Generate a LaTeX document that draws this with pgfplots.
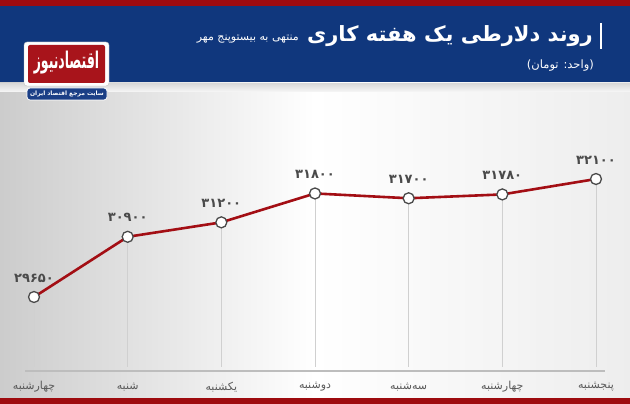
\documentclass[border=0pt]{standalone}
\usepackage{graphicx}
\usepackage{pgfplots}
\pgfplotsset{compat=1.18}
\usepackage{fontspec}
\setmainfont{DejaVu Sans}
\newfontfamily\arabicfont[Script=Arabic]{DejaVu Sans}
\TeXXeTstate=1
\definecolor{hdrblue}{HTML}{10377D}
\definecolor{hdrred}{HTML}{9E0B0F}
\definecolor{linered}{HTML}{A30E14}
\definecolor{lblgray}{HTML}{4A4A4A}
\definecolor{daygray}{HTML}{5A5A5A}
\definecolor{vgray}{HTML}{D0D0D0}
\definecolor{basegray}{HTML}{BDBDBD}
\definecolor{logored}{HTML}{A8141B}
\definecolor{tagblue}{HTML}{1B3F86}
\begin{document}
\begin{tikzpicture}[x=1pt,y=1pt]
\useasboundingbox (0,0) rectangle (630,404);
% background
\shade[left color=black!20, right color=black!7, middle color=white] (0,0) rectangle (630,404);
\shade[top color=black!14, bottom color=black!3] (0,312) rectangle (630,320);
\fill[hdrblue] (0,322) rectangle (630,398);
\fill[hdrred] (0,398) rectangle (630,404);
\fill[hdrred] (0,0) rectangle (630,6);
% logo
\filldraw[fill=white, draw=black!25, rounded corners=3pt] (24,318) rectangle (109,362);
\fill[logored, rounded corners=2pt] (28,321) rectangle (105,359);
\node[text=white, inner sep=0pt] at (66.5,341) {\scalebox{0.62}[1.15]{\arabicfont\bfseries\fontsize{20}{20}\selectfont\beginR اقتصادنیوز\endR}};
\filldraw[fill=tagblue, draw=white, line width=0.8pt, rounded corners=3pt] (27,304) rectangle (107,316);
\node[text=white, inner sep=0pt] at (67,310) {\arabicfont\bfseries\fontsize{6}{6}\selectfont\beginR سایت مرجع اقتصاد ایران\endR};
% title
\draw[white, line width=2pt] (601,381) -- (601,355);
\node[text=white, anchor=east, inner sep=0pt] at (593,368) {\arabicfont\bfseries\fontsize{21}{21}\selectfont\beginR روند دلارطی یک هفته کاری\endR};
\node[text=white, anchor=east, inner sep=0pt] at (299,365) {\arabicfont\fontsize{11}{11}\selectfont\beginR منتهی به بیستوپنج مهر\endR};
\node[text=white, anchor=east, inner sep=0pt] at (594,338) {\arabicfont\fontsize{11.5}{11.5}\selectfont\beginR (واحد: تومان)\endR};
\begin{axis}[
  at={(0,0)}, anchor=south west,
  scale only axis, width=630pt, height=320pt,
  xmin=-0.363, xmax=6.363, ymin=27428, ymax=34073,
  clip=false,
  axis line style={draw=none},
  ytick=\empty,
  xtick={0,1,2,3,4,5,6},
  xticklabels={\beginR چهارشنبه\endR, \beginR شنبه\endR, \beginR یکشنبه\endR, \beginR دوشنبه\endR, \beginR سه‌شنبه\endR, \beginR چهارشنبه\endR, \beginR پنجشنبه\endR},
  xticklabel style={font=\arabicfont\fontsize{11}{11}\selectfont, text=daygray, anchor=center, yshift=17pt},
  major tick length=0pt,
]
% baseline
\addplot[basegray, line width=1.2pt, mark=none] coordinates {(-0.096,28113) (6.096,28113)};
% vertical drop lines
\addplot[draw=none, mark=none, forget plot,
  error bars/.cd, y dir=minus, y explicit,
  error bar style={vgray, line width=1pt}, error mark=none]
  coordinates {
  (0,29650) -= (0,1454)
  (1,30900) -= (0,2704)
  (2,31200) -= (0,3004)
  (3,31800) -= (0,3604)
  (4,31700) -= (0,3504)
  (5,31780) -= (0,3584)
  (6,32100) -= (0,3904)
  };
% main line
\addplot[linered, line width=2.6pt, mark=*, mark size=5.5pt,
  mark options={fill=white, draw=lblgray, line width=1.3pt},
  nodes near coords, point meta=explicit symbolic,
  every node near coord/.append style={anchor=center, yshift=19pt, text=lblgray,
     font=\arabicfont\bfseries\fontsize{13}{13}\selectfont}]
  coordinates {
  (0,29650) [۲۹۶۵۰]
  (1,30900) [۳۰۹۰۰]
  (2,31200) [۳۱۲۰۰]
  (3,31800) [۳۱۸۰۰]
  (4,31700) [۳۱۷۰۰]
  (5,31780) [۳۱۷۸۰]
  (6,32100) [۳۲۱۰۰]
  };
\end{axis}
\end{tikzpicture}
\end{document}
